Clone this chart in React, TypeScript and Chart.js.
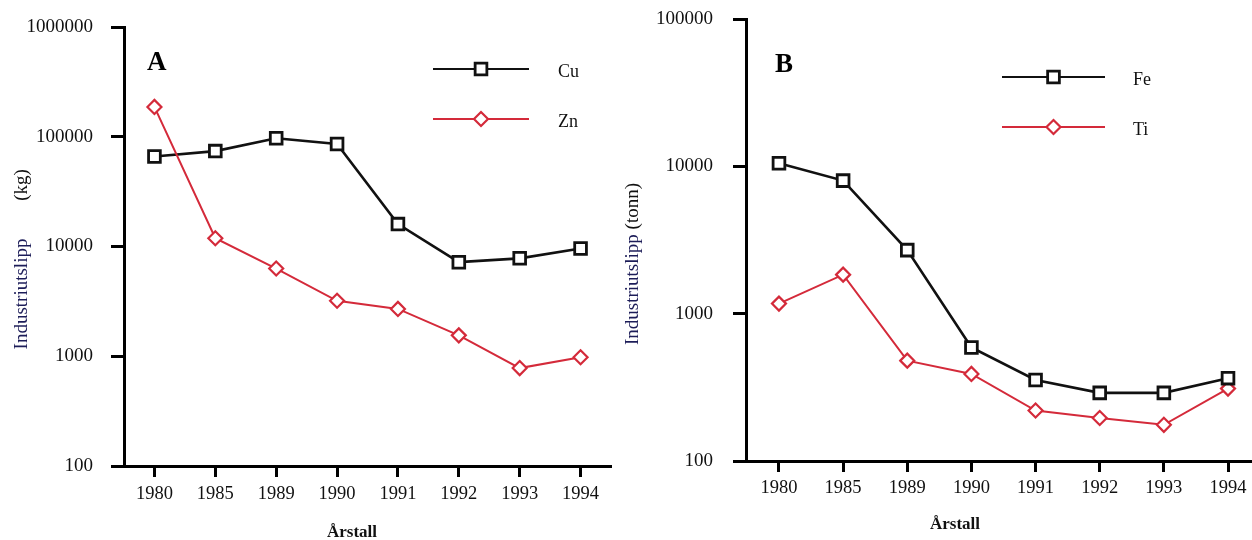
import React, { useEffect, useRef } from 'react';
import { Chart, registerables } from 'chart.js';

Chart.register(...registerables);

// ---------- data ----------
const categories = ['1980', '1985', '1989', '1990', '1991', '1992', '1993', '1994'];
const cuValues = [66000, 74000, 97000, 86000, 16000, 7200, 7800, 9600];
const znValues = [187000, 11900, 6300, 3200, 2700, 1550, 780, 980];
const feValues = [10500, 8000, 2700, 590, 355, 290, 290, 365];
const tiValues = [1170, 1840, 480, 390, 220, 196, 176, 310];
const yTicksA = [100, 1000, 10000, 100000, 1000000];
const yTicksB = [100, 1000, 10000, 100000];

const FONT = '"Liberation Serif", "Times New Roman", Times, serif';
const BLACK = '#111111';
const RED = '#d42a3a';
const NAVY = '#1c1c58';

function drawMarker(ctx: CanvasRenderingContext2D, style: string, x: number, y: number, r: number, color: string, bw: number) {
  ctx.save();
  ctx.beginPath();
  if (style === 'rect') {
    const s = r * Math.SQRT1_2;
    ctx.rect(x - s, y - s, 2 * s, 2 * s);
  } else {
    ctx.moveTo(x, y - r);
    ctx.lineTo(x + r, y);
    ctx.lineTo(x, y + r);
    ctx.lineTo(x - r, y);
    ctx.closePath();
  }
  ctx.fillStyle = '#ffffff';
  ctx.fill();
  ctx.lineWidth = bw;
  ctx.strokeStyle = color;
  ctx.stroke();
  ctx.restore();
}

const decorPlugin = {
  id: 'decor',
  afterDraw(chart: any, _args: any, opts: any) {
    const ctx: CanvasRenderingContext2D = chart.ctx;
    ctx.save();
    // panel letter
    ctx.font = `bold 27px ${FONT}`;
    ctx.fillStyle = '#000';
    ctx.textAlign = 'left';
    ctx.textBaseline = 'alphabetic';
    ctx.fillText(opts.letter, opts.letterX, opts.letterY);

    // legend
    chart.data.datasets.forEach((ds: any, i: number) => {
      const ly = opts.legendY[i];
      ctx.beginPath();
      ctx.strokeStyle = ds.borderColor;
      ctx.lineWidth = 2.2;
      ctx.moveTo(opts.legendX1, ly);
      ctx.lineTo(opts.legendX2, ly);
      ctx.stroke();
      drawMarker(ctx, ds.pointStyle, (opts.legendX1 + opts.legendX2) / 2, ly, ds.pointRadius, ds.borderColor, ds.pointBorderWidth);
      ctx.font = `18px ${FONT}`;
      ctx.fillStyle = '#111';
      ctx.textAlign = 'left';
      ctx.textBaseline = 'middle';
      ctx.fillText(ds.label, opts.legendTextX, ly + 3);
    });

    // x title
    ctx.font = `bold 17px ${FONT}`;
    ctx.fillStyle = '#111';
    ctx.textAlign = 'left';
    ctx.textBaseline = 'alphabetic';
    ctx.fillText(opts.xTitle, opts.xTitleX, opts.xTitleY);

    // y title (rotated)
    ctx.font = `19px ${FONT}`;
    ctx.textBaseline = 'middle';
    opts.yTitleParts.forEach((p: any) => {
      ctx.save();
      ctx.translate(opts.yTitleX, p.cy);
      ctx.rotate(-Math.PI / 2);
      let total = 0;
      p.segs.forEach((s: any) => { total += ctx.measureText(s.text).width; });
      let x0 = -total / 2;
      p.segs.forEach((s: any) => {
        ctx.fillStyle = s.color;
        ctx.textAlign = 'left';
        ctx.fillText(s.text, x0, 0);
        x0 += ctx.measureText(s.text).width;
      });
      ctx.restore();
    });
    ctx.restore();
  },
};

function zeroPad(s: any) {
  s.paddingTop = 0;
  s.paddingBottom = 0;
  s.paddingLeft = 0;
  s.paddingRight = 0;
}

function makeConfig(p: any) {
  return {
    type: 'line',
    data: {
      datasets: [
        {
          label: p.names[0],
          data: p.series[0].map((v: number, i: number) => ({ x: i, y: v })),
          borderColor: BLACK,
          borderWidth: 2.6,
          pointStyle: 'rect',
          pointRadius: 8.3,
          pointBorderWidth: 2.8,
          pointBackgroundColor: '#ffffff',
          pointBorderColor: BLACK,
          tension: 0,
          order: p.blackOrder,
          clip: false,
        },
        {
          label: p.names[1],
          data: p.series[1].map((v: number, i: number) => ({ x: i, y: v })),
          borderColor: RED,
          borderWidth: 2,
          pointStyle: 'rectRot',
          pointRadius: 7,
          pointBorderWidth: 2.2,
          pointBackgroundColor: '#ffffff',
          pointBorderColor: RED,
          tension: 0,
          order: p.redOrder,
          clip: false,
        },
      ],
    },
    options: {
      responsive: false,
      animation: false,
      devicePixelRatio: 1,
      layout: { autoPadding: false, padding: { left: 0, top: p.padTop, right: p.padRight, bottom: 0 } },
      plugins: {
        legend: { display: false },
        tooltip: { enabled: false },
        title: { display: false },
        decor: p.decor,
      },
      scales: {
        x: {
          type: 'linear',
          min: p.xMin,
          max: p.xMax,
          afterBuildTicks: (s: any) => {
            s.ticks = categories.map((_c, i) => ({ value: i }));
          },
          afterFit: (s: any) => { s.height = p.xHeight; zeroPad(s); },
          ticks: {
            callback: (v: any) => categories[v as number] ?? '',
            font: { family: FONT, size: 18.5 },
            color: '#111',
            padding: p.xPad,
            maxRotation: 0,
            autoSkip: false,
          },
          grid: {
            display: true,
            drawOnChartArea: false,
            drawTicks: true,
            tickLength: 11,
            tickWidth: 3,
            tickColor: '#000',
          },
          border: { display: true, width: 3, color: '#000' },
        },
        y: {
          type: 'logarithmic',
          min: p.yMin,
          max: p.yMax,
          afterBuildTicks: (s: any) => {
            s.ticks = p.yTicks.map((v: number) => ({ value: v }));
          },
          afterFit: (s: any) => { s.width = p.yWidth; zeroPad(s); },
          ticks: {
            callback: (v: any) => String(v),
            font: { family: FONT, size: 19 },
            color: '#111',
            padding: p.yPad,
            autoSkip: false,
          },
          grid: {
            display: true,
            drawOnChartArea: false,
            drawTicks: true,
            tickLength: 13,
            tickWidth: 3,
            tickColor: '#000',
          },
          border: { display: true, width: 3, color: '#000' },
        },
      },
    },
    plugins: [decorPlugin],
  };
}

const panelA = {
  names: ['Cu', 'Zn'],
  series: [cuValues, znValues],
  blackOrder: 2,
  redOrder: 1,
  padTop: 27,
  padRight: 9,
  xMin: -0.5,
  xMax: 7.5,
  xHeight: 74,
  xPad: 6,
  yMin: 100,
  yMax: 1000000,
  yTicks: yTicksA,
  yWidth: 124,
  yPad: 18,
  decor: {
    letter: 'A',
    letterX: 147,
    letterY: 70,
    legendY: [69, 119],
    legendX1: 433,
    legendX2: 529,
    legendTextX: 558,
    xTitle: 'Årstall',
    xTitleX: 327,
    xTitleY: 537,
    yTitleX: 22,
    yTitleParts: [
      { cy: 294, segs: [{ text: 'Industriutslipp', color: NAVY }] },
      { cy: 185, segs: [{ text: '(kg)', color: '#111' }] },
    ],
  },
};

const panelB = {
  names: ['Fe', 'Ti'],
  series: [feValues, tiValues],
  blackOrder: 1,
  redOrder: 2,
  padTop: 19,
  padRight: 0,
  xMin: -0.514,
  xMax: 7.374,
  xHeight: 79,
  xPad: 5,
  yMin: 100,
  yMax: 100000,
  yTicks: yTicksB,
  yWidth: 126,
  yPad: 20,
  decor: {
    letter: 'B',
    letterX: 155,
    letterY: 72,
    legendY: [77, 127],
    legendX1: 382,
    legendX2: 485,
    legendTextX: 513,
    xTitle: 'Årstall',
    xTitleX: 310,
    xTitleY: 529,
    yTitleX: 13,
    yTitleParts: [
      {
        cy: 264,
        segs: [
          { text: 'Industriutslipp ', color: NAVY },
          { text: '(tonn)', color: '#111' },
        ],
      },
    ],
  },
};

function Panel({ cfg, left, width }: { cfg: any; left: number; width: number }) {
  const ref = useRef<HTMLCanvasElement | null>(null);
  useEffect(() => {
    if (!ref.current) return;
    const chart = new Chart(ref.current, makeConfig(cfg) as any);
    return () => chart.destroy();
  }, [cfg]);
  return (
    <canvas
      ref={ref}
      width={width}
      height={540}
      style={{ position: 'absolute', left, top: 0, width, height: 540, display: 'block' }}
    />
  );
}

export default function App() {
  return (
    <div
      style={{
        position: 'fixed',
        left: 0,
        top: 0,
        width: 1252,
        height: 540,
        background: '#ffffff',
        overflow: 'hidden',
      }}
    >
      <Panel cfg={panelA} left={0} width={620} />
      <Panel cfg={panelB} left={620} width={632} />
    </div>
  );
}
